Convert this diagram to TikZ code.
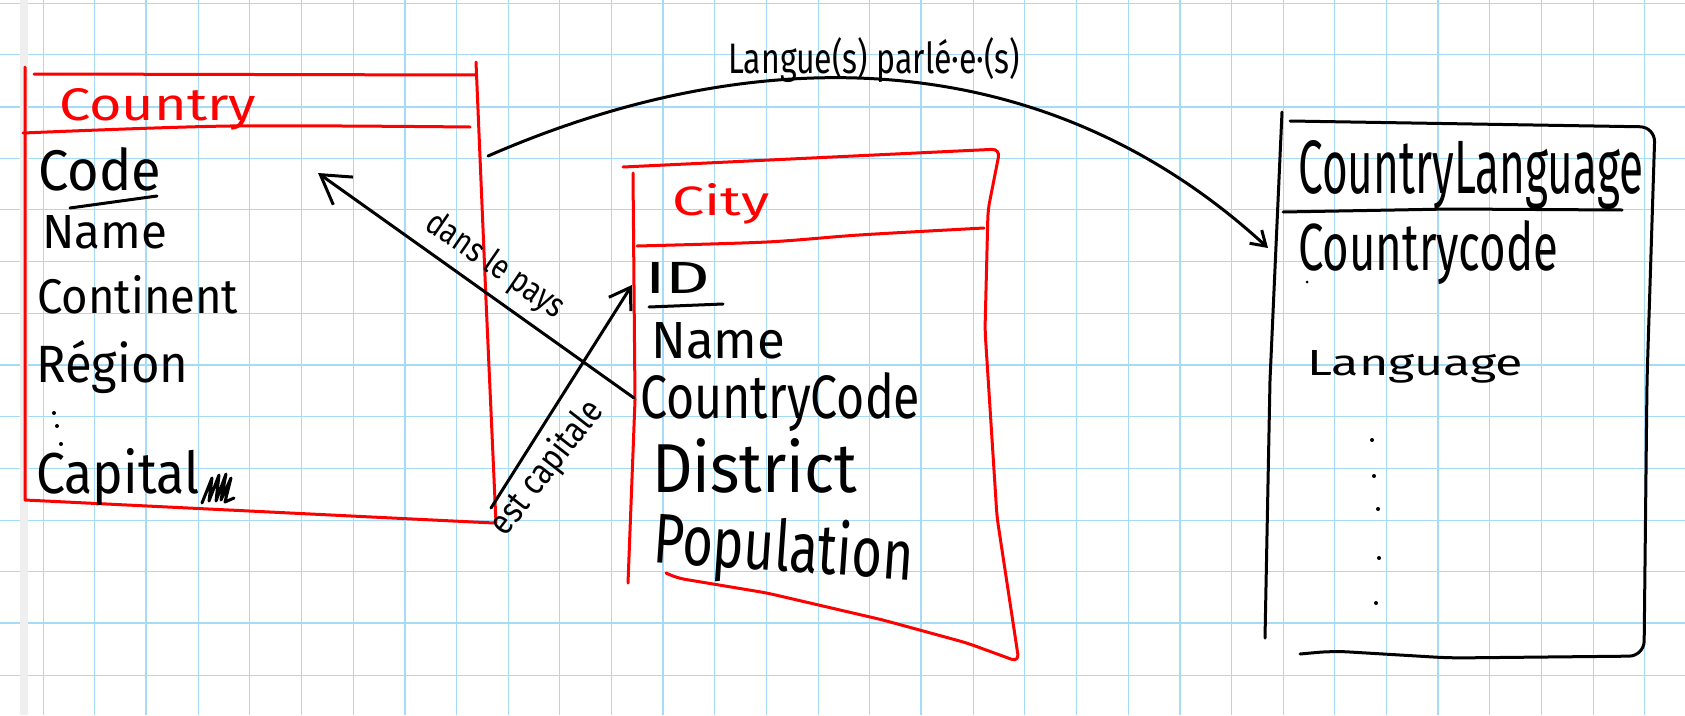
\documentclass[tikz,border=0pt]{standalone}
\usepackage{fontspec}
\setmainfont{Fira Sans}
\usepackage{graphicx}
\usetikzlibrary{arrows.meta}
\definecolor{gridblue}{RGB}{166,219,246}
\definecolor{penred}{RGB}{255,0,0}
\definecolor{marginstrip}{RGB}{239,239,239}
\newcommand\hw[3]{\resizebox{#1pt}{#2pt}{#3}}
\tikzset{
  pen/.style={line width=3pt, line cap=round, line join=round, draw=black},
  redpen/.style={pen, draw=penred},
  minorgrid/.style={draw=gridblue, line width=1pt},
  majorgrid/.style={draw=gridblue, line width=2pt},
  txt/.style={inner sep=0pt, anchor=base west, text=black},
  redtxt/.style={txt, text=penred},
  lbl/.style={inner sep=0pt, anchor=center, text=black},
  dotmark/.style={fill=black, circle, inner sep=0pt, minimum size=4pt},
  bigbarb/.style={-{Straight Barb[length=28pt, width=34pt]}},
  midbarb/.style={-{Straight Barb[length=20pt, width=26pt]}},
  smallbarb/.style={-{Straight Barb[length=14pt, width=18pt]}}
}
\begin{document}
\begin{tikzpicture}[x=1pt,y=-1pt]
\useasboundingbox (0,0) rectangle (1685,715);
\fill[white] (0,0) rectangle (1685,715);
% grid paper
\foreach \k in {0,...,31} \draw[minorgrid] ({43+51.67*\k},0) -- ({43+51.67*\k},715);
\foreach \k in {2,7,...,27} \draw[majorgrid] ({43+51.67*\k},0) -- ({43+51.67*\k},715);
\foreach \k in {0,...,13} \draw[minorgrid] (0,{3.3+51.67*\k}) -- (1685,{3.3+51.67*\k});
\foreach \k in {2,7,12} \draw[majorgrid] (0,{3.3+51.67*\k}) -- (1685,{3.3+51.67*\k});
\fill[marginstrip] (20,0) rectangle (28,715);

% ---------------- Country (red) ----------------
\draw[redpen] (25,67) -- (25,500) -- (494,523);
\draw[redpen] (34,74) -- (476,75);
\draw[redpen] (476,62) -- (486,300) -- (496,523);
\draw[redpen] plot[smooth] coordinates {(23,133) (230,126) (470,127)};
\node[redtxt] (countryT) at (59,120) {\hw{197}{32}{Country}};
\node[txt] (cCode) at (38,190) {\hw{123}{43}{Code}};
\draw[pen] (70,208) -- (157,196);
\node[txt] (cName) at (42,248) {\hw{125}{33}{Name}};
\node[txt] (cCont) at (37,313) {\hw{201}{38}{Continent}};
\node[txt] (cReg) at (36,382) {\hw{152}{42}{Région}};
\node[dotmark] (cd1) at (54,413) {};
\node[dotmark] (cd2) at (57,426) {};
\node[dotmark] (cd3) at (61,444) {};
\node[txt] (cCap) at (36,493) {\hw{163}{45}{Capital}};
\draw[pen] (202,503) -- (212,478) -- (209,501) -- (219,475) -- (216,501) -- (226,474) -- (221,500) -- (231,478) -- (225,502) -- (234,498);

% ---------------- City (red) ----------------
\draw[redpen] (633,173) -- (635,400) -- (628,583);
\draw[redpen, rounded corners=8pt] (623,167) -- (1000,149) -- (988,210) -- (985,330) -- (997,517) -- (1019,662) -- (967,643) -- (883,620) -- (767,593) -- (677,578) -- (666,573);
\draw[redpen] plot[smooth] coordinates {(637,246) (767,242) (859,235) (984,228)};
\node[redtxt] (cityT) at (672,215) {\hw{97}{32}{City}};
\node[txt] (tID) at (645,293) {\hw{65}{31}{ID}};
\draw[pen] (649,307) -- (723,304);
\node[txt] (tName) at (651,358) {\hw{134}{36}{Name}};
\node[txt] (tCC) at (640,418) {\hw{280}{46}{CountryCode}};
\node[txt] (tDist) at (652,492) {\hw{205}{54}{District}};
\node[txt, rotate=-4] (tPop) at (652,562) {\hw{260}{55}{Population}};

% ---------------- CountryLanguage (black) ----------------
\draw[pen] (1282,112) -- (1270,380) -- (1265,638);
\draw[pen, rounded corners=15pt] (1290,121) -- (1655,127) -- (1647,380) -- (1644,656) -- (1450,658) -- (1333,651) -- (1300,654);
\draw[pen] (1283,212) -- (1450,209) -- (1622,210);
\node[txt] (clT) at (1298,193) {\hw{345}{53}{CountryLanguage}};
\node[txt] (clCC) at (1298,270) {\hw{260}{50}{Countrycode}};
\node[dotmark, minimum size=3pt] (cld0) at (1307,282) {};
\node[txt] (clLang) at (1307,375) {\hw{216}{25}{Language}};
\node[dotmark] (cld1) at (1372,440) {};
\node[dotmark] (cld2) at (1374,476) {};
\node[dotmark] (cld3) at (1378,509) {};
\node[dotmark] (cld4) at (1379,558) {};
\node[dotmark] (cld5) at (1376,603) {};

% ---------------- connectors ----------------
\coordinate (arcS) at (488,156);
\coordinate (arcE) at (1268,248);
\draw[pen, smallbarb] (arcS) .. controls (763,36) and (1047,45) .. (arcE);
\node[txt] (arcL) at (728,73) {\hw{292}{36}{Langue(s) parlé·e·(s)}};

\coordinate (dpS) at (634,398);
\coordinate (dpE) at (318,173);
\draw[pen, bigbarb] (dpS) -- (dpE);
\node[lbl, rotate=-34.5] (dpL) at (495,266) {\hw{160}{26}{dans le pays}};

\coordinate (ecS) at (491,508);
\coordinate (ecE) at (632,285);
\draw[pen, midbarb] (ecS) -- (ecE);
\node[lbl, rotate=52] (ecL) at (547,468) {\hw{160}{28}{est capitale}};
\end{tikzpicture}
\end{document}
